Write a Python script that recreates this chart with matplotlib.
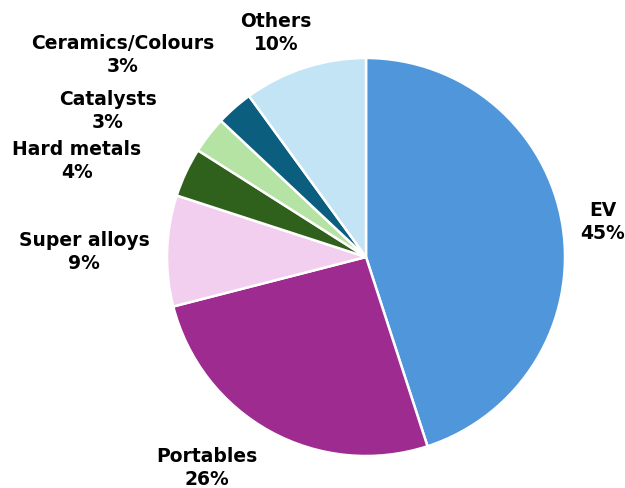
import matplotlib.pyplot as plt

# Share of cobalt demand by end use (%)
segments = ['EV', 'Portables', 'Super alloys', 'Hard metals', 'Catalysts',
            'Ceramics/Colours', 'Others']
shares = [45, 26, 9, 4, 3, 3, 10]
colors = ['#5096DA', '#9E2B8F', '#F2CFEE', '#2F611D', '#B5E3A3',
          '#0B5E7E', '#C3E4F5']

W, H = 625, 489
cx, cy, r = 366, 258, 199

fig = plt.figure(figsize=(W / 100, H / 100), dpi=100)
ax = fig.add_axes([(cx - r) / W, (H - cy - r) / H, 2 * r / W, 2 * r / H])

ax.pie(shares, colors=colors, startangle=90, counterclock=False, radius=1,
       wedgeprops=dict(edgecolor='white', linewidth=1.8))
ax.set_xlim(-1, 1)
ax.set_ylim(-1, 1)
ax.set_aspect('equal')
ax.axis('off')

# label centres in pixel coordinates of the figure
label_pos = {
    'EV': (603, 222),
    'Portables': (207, 468),
    'Super alloys': (84, 252),
    'Hard metals': (77, 161),
    'Catalysts': (108, 111),
    'Ceramics/Colours': (123, 55),
    'Others': (276, 33),
}

for name, val in zip(segments, shares):
    px, py = label_pos[name]
    ax.text((px - cx) / r, (cy - py) / r, f'{name}\n{val}%',
            ha='center', va='center', multialignment='center',
            fontsize=13.5, fontweight='bold', family='DejaVu Sans',
            linespacing=1.25, color='black')

fig.savefig('out.png', dpi=100)
